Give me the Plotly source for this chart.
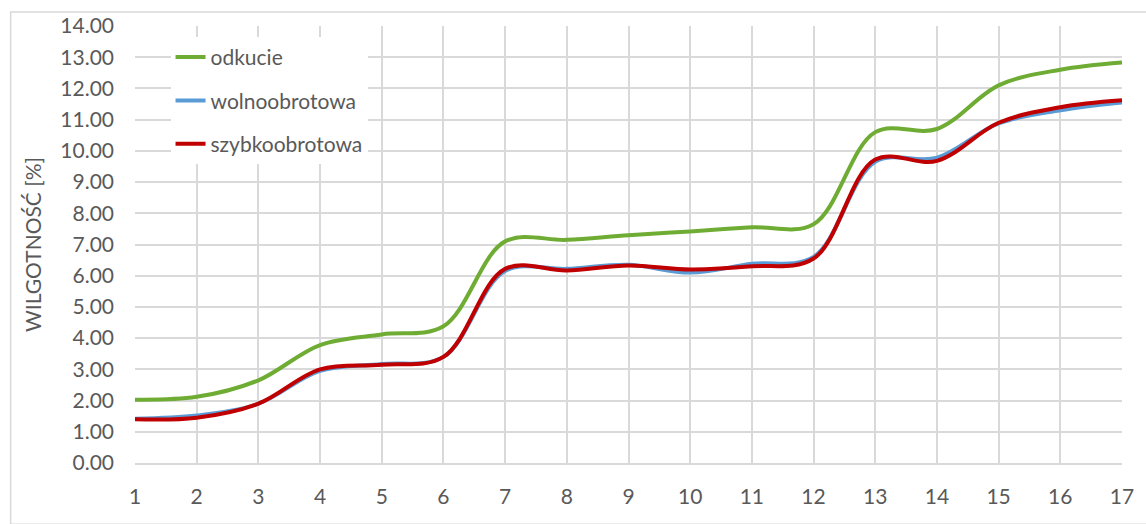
import plotly.graph_objects as go

x_vals = list(range(1, 18))
odkucie = [2.03, 2.12, 2.65, 3.78, 4.12, 4.38, 7.1, 7.15, 7.3, 7.42, 7.55, 7.65, 10.6, 10.7, 12.1, 12.6, 12.83]
wolnoobrotowa = [1.42, 1.52, 1.9, 2.95, 3.17, 3.4, 6.15, 6.22, 6.35, 6.1, 6.38, 6.6, 9.65, 9.78, 10.88, 11.3, 11.55]
szybkoobrotowa = [1.4, 1.45, 1.9, 3.0, 3.15, 3.4, 6.22, 6.17, 6.33, 6.2, 6.3, 6.55, 9.72, 9.68, 10.9, 11.4, 11.62]
y_ticks = [i for i in range(0, 15)]
y_tick_labels = [f"{v:.2f}" for v in y_ticks]

series = [
    ("odkucie", odkucie, "#6FAC34"),
    ("wolnoobrotowa", wolnoobrotowa, "#5B9BD5"),
    ("szybkoobrotowa", szybkoobrotowa, "#C00000"),
]

fig = go.Figure()
for i, (name, vals, col) in enumerate(series):
    fig.add_trace(go.Scatter(
        x=x_vals, y=vals, name=name, mode="lines",
        line=dict(color=col, width=4, shape="spline", smoothing=1.0),
        legendgroup=f"g{i}",
    ))

font = "Lato, 'Open Sans', sans-serif"
fig.update_layout(
    width=1146, height=524,
    margin=dict(l=135, r=18, t=26, b=61),
    paper_bgcolor="white", plot_bgcolor="white",
    font=dict(family=font, color="#595959", size=21),
    showlegend=True,
    legend=dict(
        x=0.036, y=0.975, xanchor="left", yanchor="top",
        bgcolor="white", font=dict(size=21, color="#595959"),
        tracegroupgap=13, traceorder="grouped",
    ),
    xaxis=dict(
        range=[1, 17], tickmode="array", tickvals=x_vals,
        ticktext=[str(v) for v in x_vals],
        showgrid=True, gridcolor="#D9D9D9", gridwidth=1.5,
        zeroline=False, showline=True, linecolor="#D9D9D9", linewidth=1.5,
        ticks="", ticklabelstandoff=14, tickfont=dict(size=21),
    ),
    yaxis=dict(
        range=[0, 14], tickmode="array", tickvals=y_ticks, ticktext=y_tick_labels,
        showgrid=True, gridcolor="#D9D9D9", gridwidth=1.5,
        zeroline=False, showline=False,
        ticks="", ticklabelstandoff=20, tickfont=dict(size=21),
        title=dict(text="WILGOTNOŚĆ [%]", font=dict(size=21, color="#595959"), standoff=12),
    ),
    shapes=[dict(
        type="rect", xref="paper", yref="paper",
        x0=-0.126, x1=1.03, y0=-0.14, y1=1.032,
        line=dict(color="#D9D9D9", width=1.5), fillcolor="rgba(0,0,0,0)", layer="below",
    )],
)

fig.write_html(
    "out.html",
    config={"displayModeBar": False},
    post_script="document.body.style.margin='0';document.body.style.overflow='hidden';",
)
